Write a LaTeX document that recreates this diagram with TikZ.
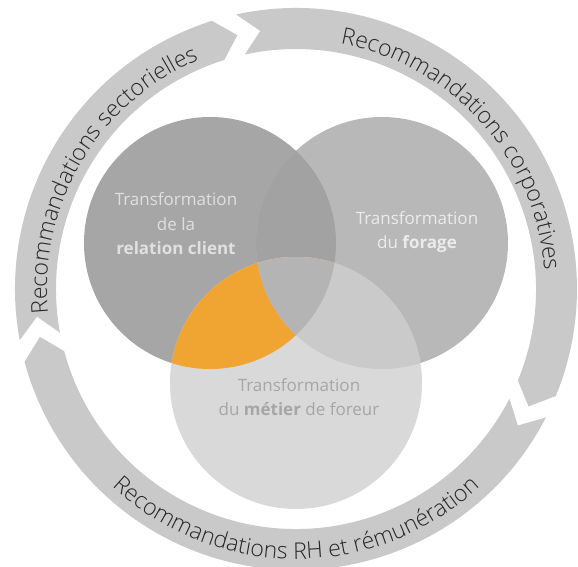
\documentclass[tikz,border=0pt]{standalone}
\usepackage{fontspec}
\setmainfont{Open Sans}
\newfontfamily\ringlight{Open Sans Light}
\usetikzlibrary{decorations.text}

\definecolor{ringgray}{HTML}{C9C9C9}
\definecolor{clientgray}{HTML}{A6A6A6}
\definecolor{foragegray}{HTML}{B8B8B8}
\definecolor{metiergray}{HTML}{D9D9D9}
\definecolor{lensgray}{HTML}{A2A2A2}
\definecolor{pairgray}{HTML}{CACACA}
\definecolor{coregray}{HTML}{B4B4B4}
\definecolor{accent}{HTML}{F0A431}
\definecolor{ringtext}{HTML}{262626}

\newcommand{\ringfont}{\ringlight\fontsize{23}{23}\selectfont\color{ringtext}}

\begin{document}
\begin{tikzpicture}[
    x=1pt, y=1pt,
    ring/.style={fill=ringgray},
    ringlabel/.style={decorate, decoration={text along path, text align=center}},
    venntext/.style={align=center, inner sep=0pt, font=\fontsize{17}{24.5}\selectfont}
]
\useasboundingbox (-296,-278) rectangle (282,289);

% Outer cycle of arrows
\fill[ring] (190.5:281) arc[start angle=190.5, end angle=107.4, radius=281] -- (103:260.5)
    -- (107.4:240) arc[start angle=107.4, end angle=190.5, radius=240] -- (186.1:260.5) -- cycle;
\fill[ring] (102.3:281) arc[start angle=102.3, end angle=-22.4, radius=281] -- (-26.8:260.5)
    -- (-22.4:240) arc[start angle=-22.4, end angle=102.3, radius=240] -- (97.9:260.5) -- cycle;
\fill[ring] (-27.2:281) arc[start angle=-27.2, end angle=-165, radius=281] -- (-169.4:260.5)
    -- (-165:240) arc[start angle=-165, end angle=-27.2, radius=240] -- (-31.6:260.5) -- cycle;

% Labels on the arrows
\path[ringlabel, decoration={text={|\ringfont|Recommandations sectorielles}}]
    (194.3:249) arc[start angle=194.3, end angle=104.3, radius=249];
\path[ringlabel, decoration={text={|\ringfont|Recommandations corporatives}}]
    (87:249) arc[start angle=87, end angle=-3, radius=249];
\path[ringlabel, decoration={text={|\ringfont|Recommandations RH et rémunération}}]
    (220:270) arc[start angle=220, end angle=320, radius=270];

% Venn centres
\coordinate (client) at (-86,46);
\coordinate (forage) at (86,46);
\coordinate (metier) at (0,-94);

% Circles
\fill[clientgray] (client) circle[radius=126];
\fill[foragegray] (forage) circle[radius=126];
\begin{scope}
    \clip (forage) circle[radius=126];
    \fill[lensgray] (client) circle[radius=126];
\end{scope}
\fill[metiergray] (metier) circle[radius=126];

% Overlaps with the bottom circle
\begin{scope}
    \clip (metier) circle[radius=126];
    \fill[accent] (client) circle[radius=126];
    \fill[pairgray] (forage) circle[radius=126];
    \clip (forage) circle[radius=126];
    \fill[coregray] (client) circle[radius=126];
\end{scope}

% Texts
\node[venntext, text=white!88!black] (clienttext) at (-120,65) {Transformation\\de la\\\textbf{relation client}};
\node[venntext, text=white!92!black] (foragetext) at (121,57) {Transformation\\du \textbf{forage}};
\node[venntext, text=clientgray] (metiertext) at (3,-108) {Transformation\\du \textbf{métier} de foreur};

\end{tikzpicture}
\end{document}
